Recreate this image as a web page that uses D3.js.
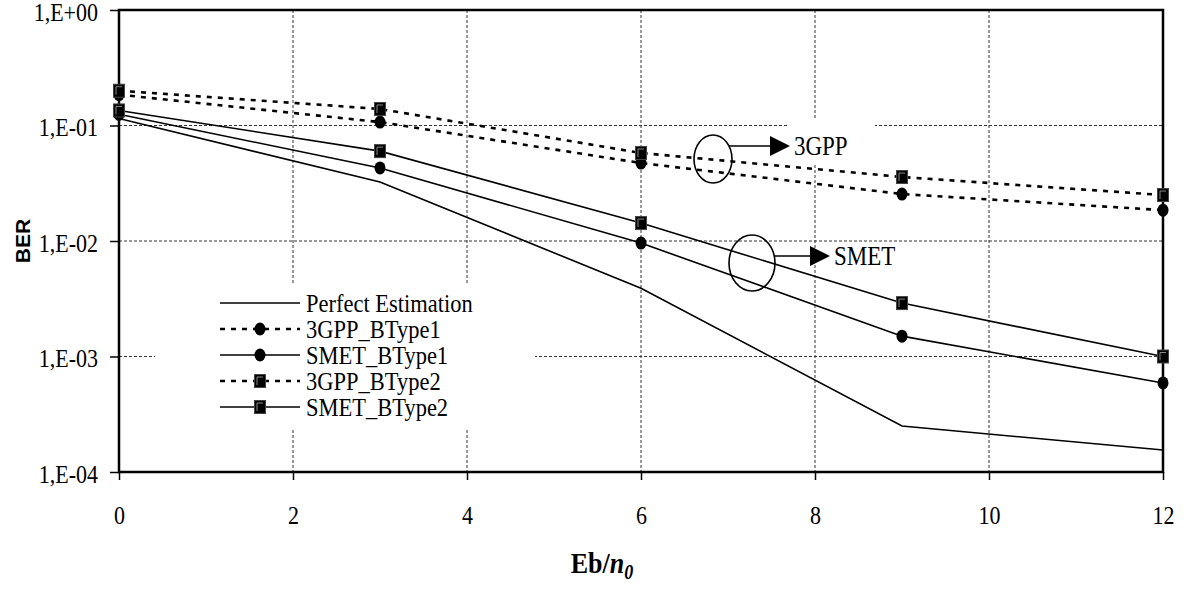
<!DOCTYPE html>
<html><head><meta charset="utf-8">
<script src="https://cdn.jsdelivr.net/npm/d3@7"></script>
<style>
html,body{margin:0;padding:0;background:#fff;}
svg{display:block;}
</style></head>
<body>
<svg id="chart" width="1190" height="590"></svg>
<script>
// ---- data ----
const ebn0 = [0, 3, 6, 9, 12];
const perfectEst = [0.115, 0.0324, 0.0039, 0.00025, 0.000155];
const gppBType1 = [0.185, 0.107, 0.0473, 0.0255, 0.0185];
const smetBType1 = [0.125, 0.0429, 0.0096, 0.0015, 0.00059];
const gppBType2 = [0.2, 0.139, 0.0578, 0.0358, 0.025];
const smetBType2 = [0.135, 0.060, 0.0143, 0.0029, 0.001];
const seriesNames = ["Perfect Estimation", "3GPP_BType1", "SMET_BType1", "3GPP_BType2", "SMET_BType2"];
const xTicks = [0, 2, 4, 6, 8, 10, 12];
const yTicks = [1, 0.1, 0.01, 0.001, 0.0001];
const yTickLabels = ["1,E+00", "1,E-01", "1,E-02", "1,E-03", "1,E-04"];

const series = [
  {name: seriesNames[0], values: perfectEst, dashed: false, marker: null},
  {name: seriesNames[1], values: gppBType1, dashed: true, marker: "circle"},
  {name: seriesNames[2], values: smetBType1, dashed: false, marker: "circle"},
  {name: seriesNames[3], values: gppBType2, dashed: true, marker: "square"},
  {name: seriesNames[4], values: smetBType2, dashed: false, marker: "square"}
];

const svg = d3.select("#chart");
const L = 119, R = 1163, T = 10, B = 472;
const SY = 1.15; // vertical stretch of the serif text
const x = d3.scaleLinear().domain([0, 12]).range([L, R]);
const y = d3.scaleLog().domain([1e-4, 1]).range([B, T]);
const serif = "'Liberation Serif','Times New Roman',serif";

function sText(parent, tx, ty, str, size, anchor) {
  return parent.append("g").attr("transform", `translate(${tx},${ty}) scale(1,${SY})`)
    .append("text").attr("x", 0).attr("y", 0).attr("dy", "0.35em")
    .attr("text-anchor", anchor || "start")
    .attr("font-family", serif).attr("font-size", size).attr("fill", "#000").text(str);
}

// grid
const grid = svg.append("g").attr("stroke", "#333").attr("stroke-width", 1).attr("stroke-dasharray", "3,2");
grid.selectAll("line.v").data(xTicks.filter(d => d > 0 && d < 12)).join("line")
  .attr("x1", d => x(d)).attr("x2", d => x(d)).attr("y1", T).attr("y2", B);
grid.selectAll("line.h").data(yTicks.filter(d => d < 1 && d > 1e-4)).join("line")
  .attr("x1", L).attr("x2", R).attr("y1", d => y(d)).attr("y2", d => y(d));

// white boxes hiding grid (legend and 3GPP label)
svg.append("rect").attr("x", 155).attr("y", 283).attr("width", 380).attr("height", 147).attr("fill", "#fff");
svg.append("rect").attr("x", 787).attr("y", 118).attr("width", 88).attr("height", 45).attr("fill", "#fff");

// axes
const yAxis = d3.axisLeft(y).tickValues(yTicks).tickSize(9).tickPadding(12)
  .tickFormat((d, i) => yTickLabels[i]);
const gy = svg.append("g").attr("transform", `translate(${L},0)`).call(yAxis);
const xAxis = d3.axisBottom(x).tickValues(xTicks).tickSize(8).tickPadding(22);
const gx = svg.append("g").attr("transform", `translate(0,${B})`).call(xAxis);
[gx, gy].forEach(g => {
  g.select(".domain").remove();
  g.selectAll(".tick line").attr("stroke", "#000").attr("stroke-width", 1.5);
  g.selectAll(".tick text").attr("font-family", serif).attr("font-size", 22).attr("fill", "#000")
    .attr("transform", `scale(1,${SY})`);
});
gy.selectAll(".tick text").attr("dy", "0.4em");

// frame
svg.append("rect").attr("x", L).attr("y", T).attr("width", R - L).attr("height", B - T)
  .attr("fill", "none").attr("stroke", "#000").attr("stroke-width", 2.5);

// lines
const line = d3.line().x((d, i) => x(ebn0[i])).y(d => y(d));
const gLines = svg.append("g");
series.forEach(s => {
  gLines.append("path").datum(s.values).attr("d", line)
    .attr("fill", "none").attr("stroke", "#000")
    .attr("stroke-width", s.dashed ? 2.6 : 1.6)
    .attr("stroke-dasharray", s.dashed ? "5,6" : null);
});

function drawMarker(g, type, cx, cy) {
  if (type === "circle") {
    g.append("ellipse").attr("cx", cx).attr("cy", cy).attr("rx", 5.5).attr("ry", 6.5).attr("fill", "#000");
  } else if (type === "square") {
    g.append("rect").attr("x", cx - 5.5).attr("y", cy - 6.5).attr("width", 11).attr("height", 13)
      .attr("fill", "#000").attr("stroke", "#444").attr("stroke-width", 1);
    g.append("path").attr("d", `M${cx - 3},${cy + 4}V${cy - 4}H${cx + 3}`)
      .attr("fill", "none").attr("stroke", "#888").attr("stroke-width", 1);
  }
}
const gMarks = svg.append("g");
series.forEach(s => {
  if (!s.marker) return;
  s.values.forEach((v, i) => drawMarker(gMarks, s.marker, x(ebn0[i]), y(v)));
});

// legend
const lg = svg.append("g");
series.forEach((s, i) => {
  const yy = 303 + i * 26;
  lg.append("line").attr("x1", 220).attr("x2", 300).attr("y1", yy).attr("y2", yy)
    .attr("stroke", "#000").attr("stroke-width", s.dashed ? 2.6 : 1.6)
    .attr("stroke-dasharray", s.dashed ? "5,6" : null);
  if (s.marker) drawMarker(lg, s.marker, 260, yy);
  sText(lg, 306, yy, s.name, 22.5);
});

// annotations
function annot(cx, cy, rx, ry, ly, hx, label) {
  const g = svg.append("g");
  g.append("ellipse").attr("cx", cx).attr("cy", cy).attr("rx", rx).attr("ry", ry)
    .attr("fill", "none").attr("stroke", "#000").attr("stroke-width", 1.6);
  g.append("line").attr("x1", cx + Math.sqrt(1 - ((ly - cy) / ry) ** 2) * rx).attr("x2", hx)
    .attr("y1", ly).attr("y2", ly).attr("stroke", "#000").attr("stroke-width", 1.6);
  g.append("path").attr("d", `M${hx},${ly - 10}L${hx + 20},${ly}L${hx},${ly + 10}Z`).attr("fill", "#000");
  sText(g, hx + 24, ly, label, 23);
}
annot(713, 159, 19, 24, 146, 770, "3GPP");
annot(752, 263, 23, 28, 256, 810, "SMET");

// axis titles
svg.append("text").attr("transform", "translate(30,241) rotate(-90)").attr("text-anchor", "middle")
  .attr("font-family", "'Liberation Sans',Arial,sans-serif").attr("font-weight", "bold")
  .attr("font-size", 21).text("BER");
const xt = svg.append("g").attr("transform", `translate(602,573) scale(1,${SY})`)
  .append("text").attr("x", 0).attr("y", 0).attr("text-anchor", "middle")
  .attr("font-family", serif).attr("font-weight", "bold").attr("font-size", 26);
xt.append("tspan").text("Eb/");
xt.append("tspan").attr("font-style", "italic").text("n");
xt.append("tspan").attr("font-style", "italic").attr("font-size", 18).attr("dy", 5).text("0");
</script>
</body></html>
